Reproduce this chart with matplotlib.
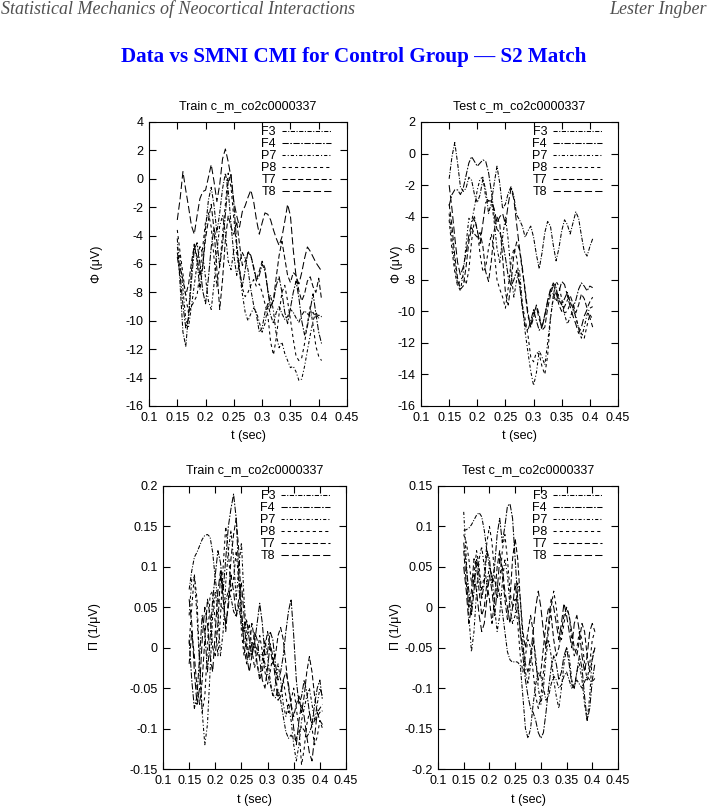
import numpy as np
import matplotlib
matplotlib.use("Agg")
import matplotlib.pyplot as plt

# time grid (sec), 5 ms steps
t = np.round(np.arange(0.150, 0.4051, 0.005), 3)

channels = ["F3", "F4", "P7", "P8", "T7", "T8"]

# ---- Train, Phi (uV)
train_phi = {
    "F3": [-4.2, -7.5, -10.8, -11.8, -9.5, -6.5, -4.6, -5.8, -7.8, -6.2,
           -3.5, -1.5, -0.6, -1.9, -3.8, -2.4, -0.7, 0.4, -0.8, -3.2,
           -5.4, -6.8, -5.9, -5.2, -5.6, -6.4, -7.8, -8.9, -9.6, -10.8,
           -10.5, -9.4, -8.8, -9.6, -10.2, -9.4, -9.0, -9.5, -9.9, -9.7,
           -9.2, -9.4, -9.8, -10.1, -9.6, -9.3, -9.5, -9.7, -9.4, -9.8,
           -9.6, -9.7],
    "F4": [-5.5, -6.8, -8.9, -10.5, -9.8, -7.2, -5.0, -4.5, -6.0, -7.9,
           -8.8, -7.0, -4.8, -3.5, -4.4, -6.2, -4.6, -2.5, -0.2, 0.3,
           -1.8, -4.5, -6.5, -7.6, -6.4, -5.1, -5.4, -6.3, -7.2, -6.8,
           -6.0, -6.5, -7.8, -9.0, -8.6, -7.5, -6.9, -8.0, -9.4, -10.2,
           -9.1, -8.0, -7.2, -8.4, -10.0, -11.0, -10.4, -9.2, -8.1, -9.5,
           -10.8, -11.6],
    "P7": [-4.8, -5.6, -7.8, -9.9, -10.4, -9.0, -7.5, -6.0, -4.7, -5.3,
           -7.0, -8.6, -9.2, -7.4, -5.2, -3.3, -2.6, -3.8, -5.8, -6.4,
           -5.0, -5.2, -6.6, -8.1, -9.4, -10.0, -9.5, -9.1, -9.4, -10.1,
           -10.8, -10.2, -9.0, -8.2, -9.3, -11.0, -11.9, -11.5, -12.3, -12.8,
           -13.3, -13.2, -13.6, -14.2, -14.1, -13.2, -12.1, -11.0, -10.0, -9.4,
           -9.8, -9.7],
    "P8": [-3.6, -5.2, -6.7, -8.3, -9.5, -9.0, -8.6, -8.2, -6.6, -4.8,
           -3.0, -2.4, -3.4, -5.6, -7.6, -6.1, -3.9, -1.8, 0.4, -0.6,
           -2.8, -4.9, -6.3, -7.7, -8.3, -8.0, -7.5, -7.1, -7.6, -7.4,
           -8.0, -8.8, -9.6, -11.5, -12.4, -11.2, -9.5, -8.0, -7.5, -8.6,
           -9.9, -11.3, -12.5, -12.8, -12.6, -11.6, -10.2, -9.0, -10.3, -11.8,
           -12.5, -12.8],
    "T7": [-5.2, -6.3, -7.1, -8.2, -7.4, -5.9, -4.7, -5.5, -6.8, -6.1,
           -4.2, -2.9, -1.8, -3.6, -6.4, -9.2, -7.1, -4.3, -2.6, -3.4,
           -3.9, -3.0, -4.6, -6.1, -5.8, -5.2, -5.4, -6.2, -7.1, -6.5,
           -5.8, -6.3, -7.9, -9.1, -8.5, -6.9, -5.4, -4.4, -5.6, -6.8,
           -7.3, -6.6, -6.8, -7.9, -8.6, -8.1, -7.2, -6.9, -7.6, -8.0,
           -7.0, -8.5],
    "T8": [-2.9, -1.4, 0.5, -0.8, -2.0, -3.3, -3.9, -2.6, -1.4, -0.9,
           -0.8, 0.1, 1.0, -0.2, -1.6, -0.4, 1.4, 2.1, 1.2, 0.1,
           -1.6, -2.6, -3.4, -2.3, -1.9, -1.3, -0.8, -1.6, -2.9, -3.9,
           -3.1, -2.4, -2.5, -2.9, -3.6, -4.2, -4.7, -4.1, -3.0, -1.8,
           -2.6, -5.0, -6.9, -7.4, -6.6, -5.6, -4.8, -5.1, -5.5, -5.9,
           -6.2, -6.5],
}

# ---- Test, Phi (uV)
test_phi = {
    "F3": [-1.6, -0.2, 0.7, -0.6, -2.1, -2.4, -2.2, -1.5, -1.7, -2.6,
           -3.1, -2.6, -1.6, -2.3, -3.8, -3.1, -1.9, -0.8, -1.9, -3.5,
           -3.2, -2.5, -2.1, -2.7, -3.9, -4.2, -4.6, -5.3, -4.9, -4.6,
           -5.3, -6.4, -7.3, -6.3, -5.0, -4.3, -4.6, -5.8, -6.8, -6.0,
           -4.9, -4.2, -4.5, -5.1, -4.4, -3.7, -4.1, -5.2, -6.2, -6.5,
           -5.9, -5.4],
    "F4": [-3.3, -2.6, -2.3, -2.3, -2.6, -2.2, -1.4, -0.6, -0.2, -0.5,
           -0.8, -0.6, -0.4, -0.5, -1.2, -2.4, -3.9, -4.8, -5.0, -5.6,
           -6.6, -7.8, -8.4, -8.0, -7.4, -8.3, -9.8, -10.9, -11.2, -10.6,
           -9.9, -10.6, -11.2, -11.0, -10.2, -9.4, -8.7, -8.2, -8.5, -9.3,
           -9.6, -9.2, -8.8, -9.4, -9.8, -9.3, -8.6, -8.2, -8.4, -8.7,
           -8.4, -8.5],
    "P7": [-3.8, -5.4, -7.0, -8.3, -8.7, -7.6, -5.8, -4.1, -4.3, -3.4,
           -2.3, -1.6, -1.5, -2.8, -3.0, -3.0, -4.3, -6.0, -6.9, -5.3,
           -4.0, -5.5, -7.6, -9.1, -8.0, -7.4, -9.5, -11.3, -12.6, -13.8,
           -14.7, -13.9, -12.5, -12.9, -13.4, -12.0, -10.4, -9.2, -8.7, -9.1,
           -9.5, -10.2, -10.8, -10.4, -9.9, -10.3, -11.1, -11.7, -11.0, -10.2,
           -9.8, -9.7],
    "P8": [-4.2, -6.1, -7.5, -8.4, -8.0, -7.8, -8.3, -7.4, -5.5, -4.2,
           -4.8, -6.4, -7.5, -7.2, -6.0, -5.1, -6.2, -8.0, -8.6, -9.1,
           -9.8, -8.5, -6.9, -6.0, -6.6, -8.2, -9.6, -10.5, -11.5, -12.9,
           -13.2, -12.6, -12.7, -13.5, -14.0, -12.8, -10.5, -9.0, -8.1, -8.4,
           -9.2, -10.1, -10.0, -9.5, -9.7, -10.4, -11.0, -11.4, -11.7, -10.9,
           -10.2, -10.5],
    "T7": [-3.2, -4.6, -6.5, -7.9, -8.6, -8.4, -7.2, -5.6, -4.7, -5.1,
           -5.3, -5.0, -5.9, -7.5, -8.1, -6.8, -4.9, -4.0, -4.5, -6.6,
           -8.8, -9.6, -8.2, -6.4, -5.6, -6.1, -7.4, -8.6, -10.1, -11.0,
           -10.4, -9.6, -10.2, -11.2, -11.0, -9.8, -9.0, -8.3, -8.8, -9.6,
           -10.0, -9.7, -9.3, -9.0, -9.5, -10.1, -9.6, -8.9, -9.2, -9.8,
           -9.4, -9.1],
    "T8": [-2.0, -3.5, -5.3, -6.9, -7.7, -7.2, -6.3, -5.2, -4.4, -4.0,
           -4.9, -5.7, -4.4, -3.1, -3.0, -3.0, -3.5, -4.4, -4.0, -3.8,
           -4.5, -3.2, -2.2, -2.9, -4.5, -6.0, -7.2, -8.8, -10.3, -10.9,
           -10.1, -9.7, -10.5, -11.0, -10.3, -9.3, -8.6, -8.9, -9.4, -8.8,
           -8.1, -8.3, -9.0, -9.7, -10.3, -10.8, -11.4, -11.0, -10.3, -9.9,
           -10.4, -11.0],
}

# ---- Train, Pi (1/uV)
train_pi = {
    "F3": [0.072, 0.095, 0.112, 0.118, 0.126, 0.134, 0.139, 0.140, 0.137, 0.118,
           0.085, 0.060, 0.052, 0.048, 0.058, 0.070, 0.062, 0.045, 0.038, 0.052,
           0.030, 0.010, 0.002, -0.008, -0.005, 0.004, -0.002, -0.012, -0.006, -0.020,
           -0.032, -0.045, -0.058, -0.062, -0.052, -0.065, -0.085, -0.104, -0.112, -0.108,
           -0.114, -0.112, -0.104, -0.098, -0.102, -0.110, -0.105, -0.096, -0.090, -0.085,
           -0.080, -0.078],
    "F4": [0.010, -0.040, -0.075, -0.060, -0.010, 0.040, 0.020, -0.030, 0.010, 0.060,
           0.090, 0.120, 0.105, 0.070, 0.110, 0.150, 0.172, 0.190, 0.160, 0.090,
           0.040, 0.020, 0.035, 0.010, -0.010, 0.005, 0.030, 0.055, 0.030, -0.010,
           -0.005, 0.020, 0.010, -0.020, -0.040, -0.030, -0.010, 0.020, 0.045, 0.060,
           0.015, -0.040, -0.070, -0.060, -0.040, -0.055, -0.080, -0.095, -0.070, -0.050,
           -0.040, -0.065],
    "P7": [0.040, 0.085, 0.088, 0.040, -0.020, -0.080, -0.120, -0.095, -0.030, 0.040,
           0.070, 0.040, -0.010, 0.020, 0.080, 0.120, 0.145, 0.110, 0.060, 0.100,
           0.130, 0.060, 0.010, -0.015, 0.008, 0.000, -0.020, -0.035, -0.015, 0.010,
           -0.010, -0.040, -0.060, -0.045, -0.020, -0.040, -0.070, -0.085, -0.070, -0.090,
           -0.120, -0.140, -0.120, -0.090, -0.075, -0.060, -0.050, -0.070, -0.090, -0.070,
           -0.050, -0.060],
    "P8": [0.005, 0.050, 0.090, 0.060, -0.020, -0.080, -0.060, 0.000, 0.065, 0.070,
           0.030, -0.010, 0.040, 0.100, 0.150, 0.120, 0.070, 0.085, 0.120, 0.080,
           0.020, -0.010, 0.010, 0.030, 0.000, -0.025, -0.010, 0.015, -0.005, -0.030,
           -0.045, -0.030, -0.010, -0.030, -0.060, -0.055, -0.040, -0.060, -0.080, -0.065,
           -0.050, -0.075, -0.100, -0.145, -0.125, -0.095, -0.080, -0.100, -0.120, -0.110,
           -0.090, -0.100],
    "T7": [-0.020, 0.020, -0.010, -0.050, -0.070, -0.040, 0.010, 0.060, 0.040, 0.000,
           -0.010, 0.030, 0.090, 0.065, 0.020, 0.060, 0.110, 0.140, 0.160, 0.120,
           0.050, 0.000, -0.020, 0.000, 0.030, 0.010, -0.020, -0.040, -0.030, 0.000,
           0.020, 0.000, -0.020, -0.010, 0.015, 0.025, 0.010, -0.020, -0.050, -0.070,
           -0.085, -0.070, -0.060, -0.080, -0.060, -0.030, -0.011, -0.030, -0.060, -0.080,
           -0.075, -0.070],
    "T8": [0.060, 0.030, -0.030, -0.070, -0.050, 0.010, 0.050, 0.030, -0.010, -0.030,
           0.020, 0.070, 0.095, 0.060, 0.030, 0.050, 0.090, 0.070, 0.040, 0.060,
           0.080, 0.040, -0.010, -0.030, -0.010, 0.020, 0.010, -0.015, -0.040, -0.050,
           -0.025, 0.005, -0.010, -0.040, -0.065, -0.060, -0.040, -0.030, -0.045, -0.070,
           -0.100, -0.120, -0.090, -0.070, -0.085, -0.110, -0.130, -0.140, -0.110, -0.080,
           -0.090, -0.095],
}

# ---- Test, Pi (1/uV)
test_pi = {
    "F3": [0.095, 0.096, 0.098, 0.102, 0.108, 0.114, 0.117, 0.112, 0.095, 0.070,
           0.050, 0.038, 0.030, 0.028, 0.015, -0.005, -0.030, -0.055, -0.065, -0.068,
           -0.067, -0.068, -0.072, -0.110, -0.150, -0.162, -0.150, -0.120, -0.095, -0.080,
           -0.085, -0.100, -0.115, -0.110, -0.095, -0.085, -0.090, -0.100, -0.096, -0.085,
           -0.080, -0.090, -0.100, -0.096, -0.090, -0.095, -0.100, -0.092, -0.085, -0.090,
           -0.092, -0.088],
    "F4": [0.080, 0.050, 0.020, -0.010, 0.020, 0.060, 0.040, 0.010, 0.030, 0.070,
           0.060, 0.030, 0.050, 0.090, 0.110, 0.080, 0.100, 0.125, 0.128, 0.110,
           0.060, 0.010, -0.030, -0.060, -0.090, -0.110, -0.125, -0.130, -0.140, -0.155,
           -0.162, -0.155, -0.130, -0.100, -0.075, -0.060, -0.070, -0.090, -0.080, -0.060,
           -0.050, -0.070, -0.095, -0.100, -0.080, -0.060, -0.075, -0.110, -0.140, -0.125,
           -0.090, -0.070],
    "P7": [0.118, 0.060, -0.010, -0.055, -0.030, 0.020, 0.060, 0.075, 0.050, 0.030,
           0.050, 0.040, 0.000, -0.030, -0.010, 0.030, 0.060, 0.040, 0.000, -0.020,
           -0.010, 0.030, 0.010, -0.040, -0.080, -0.095, -0.070, -0.040, -0.060, -0.100,
           -0.120, -0.100, -0.060, -0.040, -0.060, -0.090, -0.110, -0.125, -0.100, -0.070,
           -0.050, -0.060, -0.090, -0.100, -0.080, -0.070, -0.090, -0.120, -0.140, -0.110,
           -0.060, -0.050],
    "P8": [0.090, 0.080, 0.060, 0.030, 0.040, 0.070, 0.050, 0.020, 0.040, 0.080,
           0.100, 0.080, 0.040, 0.010, 0.030, 0.070, 0.090, 0.060, 0.020, 0.000,
           0.010, -0.020, -0.060, -0.080, -0.060, -0.040, -0.050, -0.080, -0.110, -0.125,
           -0.110, -0.080, -0.050, -0.030, 0.000, 0.020, 0.000, -0.030, -0.040, -0.020,
           0.000, -0.010, -0.040, -0.060, -0.050, -0.030, -0.040, -0.070, -0.090, -0.070,
           -0.040, -0.030],
    "T7": [0.070, 0.030, 0.000, 0.020, 0.060, 0.050, 0.020, -0.010, 0.000, 0.030,
           0.010, -0.020, 0.010, 0.050, 0.070, 0.040, 0.010, -0.015, 0.010, 0.060,
           0.085, 0.060, 0.010, -0.030, -0.050, -0.030, -0.010, -0.030, -0.070, -0.090,
           -0.080, -0.050, -0.020, 0.000, -0.010, -0.040, -0.060, -0.050, -0.030, -0.010,
           0.000, -0.010, -0.030, -0.050, -0.060, -0.040, -0.020, -0.030, -0.060, -0.080,
           -0.065, -0.050],
    "T8": [0.050, 0.020, -0.020, 0.000, 0.040, 0.020, -0.010, -0.030, -0.020, 0.010,
           0.040, 0.020, -0.010, 0.020, 0.060, 0.050, 0.020, 0.000, -0.020, 0.000,
           0.030, 0.000, -0.030, -0.050, -0.070, -0.080, -0.060, -0.030, 0.000, 0.020,
           0.000, -0.030, -0.050, -0.020, 0.010, 0.000, -0.020, -0.040, -0.020, 0.005,
           -0.010, -0.030, -0.050, -0.020, -0.010, -0.030, -0.060, -0.080, -0.060, -0.030,
           -0.020, -0.030],
}

xticks = [0.1, 0.15, 0.2, 0.25, 0.3, 0.35, 0.4, 0.45]
xticklabels = ["0.1", "0.15", "0.2", "0.25", "0.3", "0.35", "0.4", "0.45"]

# gnuplot-ish dash patterns
dashes = {
    "F3": (0, (4, 1.5, 1, 1.5)),
    "F4": (0, (6, 1.5, 1.5, 1.5)),
    "P7": (0, (3, 2, 1, 2)),
    "P8": (0, (3, 3)),
    "T7": (0, (5, 2.5)),
    "T8": (0, (7, 3)),
}

W, H = 709, 807
fig = plt.figure(figsize=(W / 100, H / 100), dpi=100)
plt.rcParams['font.family'] = ['Liberation Sans', 'DejaVu Sans']
FS = 9


def box(l, t_, r, b):
    # pixel box -> figure fraction
    return [l / W, 1 - b / H, (r - l) / W, (b - t_) / H]


panels = [
    (box(149, 122, 347, 406), "Train c_m_co2c0000337", train_phi, (-16, 4), np.arange(-16, 4.1, 2),
     None, "\u03a6 (\u03bcV)", 97, 264),
    (box(421, 122, 618, 406), "Test c_m_co2c0000337", test_phi, (-16, 2), np.arange(-16, 2.1, 2),
     None, "\u03a6 (\u03bcV)", 397, 264),
    (box(163, 486, 346, 769), "Train c_m_co2c0000337", train_pi, (-0.15, 0.2),
     [-0.15, -0.1, -0.05, 0, 0.05, 0.1, 0.15, 0.2],
     ["-0.15", "-0.1", "-0.05", "0", "0.05", "0.1", "0.15", "0.2"], "\u03a0 (1/\u03bcV)", 95, 627),
    (box(438, 486, 618, 769), "Test c_m_co2c0000337", test_pi, (-0.2, 0.15),
     [-0.2, -0.15, -0.1, -0.05, 0, 0.05, 0.1, 0.15],
     ["-0.2", "-0.15", "-0.1", "-0.05", "0", "0.05", "0.1", "0.15"], "\u03a0 (1/\u03bcV)", 396, 627),
]

for rect, title, data, ylim, yt, ytl, ylab, lx, ly in panels:
    ax = fig.add_axes(rect)
    for ch in channels:
        ax.plot(t, data[ch], color="black", lw=0.75, linestyle=dashes[ch], label=ch)
    ax.set_xlim(0.1, 0.45)
    ax.set_ylim(*ylim)
    ax.set_xticks(xticks)
    ax.set_xticklabels(xticklabels)
    ax.set_yticks(yt)
    if ytl is not None:
        ax.set_yticklabels(ytl)
    else:
        ax.set_yticklabels([str(int(v)) for v in yt])
    ax.tick_params(direction="in", length=5, width=0.8, top=True, right=True,
                   labelsize=FS, pad=4)
    for sp in ax.spines.values():
        sp.set_linewidth(0.8)
    ax.set_title(title, fontsize=FS, pad=9)
    ax.set_xlabel("t (sec)", fontsize=FS, labelpad=5)
    fig.text(lx / W, 1 - ly / H, ylab, rotation=90, ha="center", va="center", fontsize=FS)
    w_px = rect[2] * W
    h_px = rect[3] * H
    ax.legend(loc="upper right", bbox_to_anchor=(1 - 16 / w_px, 1 - 4 / h_px), frameon=False,
              markerfirst=False, fontsize=FS, handlelength=3.9, handletextpad=0.5,
              labelspacing=0.0, borderpad=0, borderaxespad=0)

fig.text(1 / W, 1 - 9 / H, "Statistical Mechanics of Neocortical Interactions",
         family="Liberation Serif", style="italic", color="#505050", fontsize=13,
         ha="left", va="center")
fig.text(707 / W, 1 - 9 / H, "Lester Ingber",
         family="Liberation Serif", style="italic", color="#505050", fontsize=13,
         ha="right", va="center")
fig.text(354 / W, 1 - 57 / H, "Data vs SMNI CMI for Control Group \u2014 S2 Match",
         family="Liberation Serif", weight="bold", color="#0000ff", fontsize=15.2,
         ha="center", va="center")

fig.savefig("out.png", dpi=100)
